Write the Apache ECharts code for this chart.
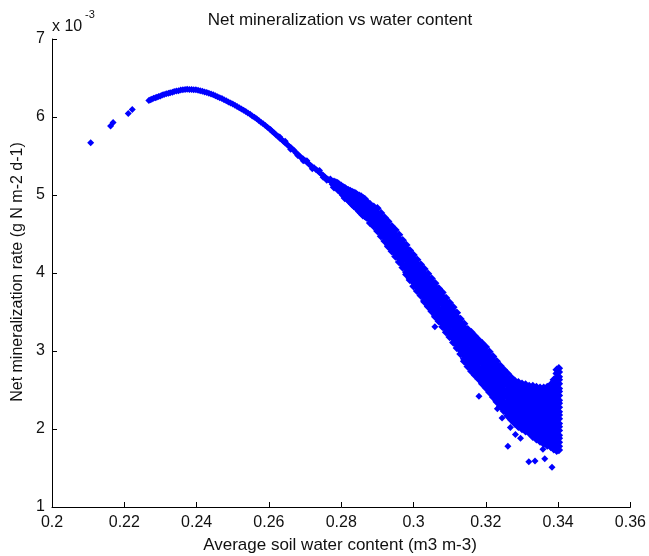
<!DOCTYPE html>
<html>
<head>
<meta charset="utf-8">
<script src="https://cdn.jsdelivr.net/npm/echarts@6/dist/echarts.min.js"></script>
<style>html,body{margin:0;padding:0;background:#fff}#c{width:649px;height:556px}</style>
</head>
<body>
<div id="c"></div>
<script>
// ---- tick values ----
const xTicks = [0.2, 0.22, 0.24, 0.26, 0.28, 0.3, 0.32, 0.34, 0.36];
const yTicks = [1, 2, 3, 4, 5, 6, 7];   // units of 1e-3 g N m-2 d-1

// ---- data (x: soil water content, y: rate x 1e-3) ----
const dryPoints = [[0.2107,5.67],[0.2162,5.885],[0.2169,5.93],[0.2211,6.045],[0.2222,6.096]];

const peakArc = [
[0.2268,6.212],[0.2272,6.222],[0.2276,6.228],[0.2281,6.240],[0.2286,6.248],[0.2290,6.252],[0.2295,6.262],
[0.2300,6.270],[0.2305,6.282],[0.2310,6.288],[0.2316,6.298],[0.2322,6.306],[0.2327,6.312],[0.2333,6.318],
[0.2338,6.326],[0.2344,6.332],[0.2350,6.338],[0.2356,6.346],[0.2362,6.350],[0.2368,6.352],[0.2374,6.356],
[0.2380,6.354],[0.2386,6.352],[0.2392,6.350],[0.2398,6.348],[0.2404,6.342],[0.2410,6.338],[0.2416,6.330],
[0.2422,6.322],[0.2428,6.314],[0.2434,6.304],[0.2440,6.294],[0.2446,6.284],[0.2452,6.272],[0.2458,6.260],
[0.2464,6.248],[0.2470,6.236],[0.2476,6.222],[0.2482,6.208],[0.2488,6.192],[0.2494,6.178],[0.2500,6.166],
[0.2506,6.152],[0.2512,6.136],[0.2518,6.120],[0.2524,6.104],[0.2530,6.088],[0.2536,6.070],[0.2542,6.052],
[0.2548,6.034],[0.2554,6.014],[0.2560,5.996],[0.2566,5.976],[0.2572,5.956],[0.2578,5.934],[0.2584,5.914],
[0.2590,5.892],[0.2596,5.870],[0.2602,5.846]
];

const descendingLimb = [
[0.2605,5.835],[0.2610,5.812],[0.2615,5.795],[0.2620,5.768],[0.2625,5.752],[0.2630,5.726],[0.2630,5.745],
[0.2635,5.712],[0.2640,5.688],[0.2645,5.668],[0.2645,5.690],[0.2650,5.652],[0.2655,5.626],[0.2660,5.612],
[0.2660,5.585],[0.2665,5.588],[0.2670,5.572],[0.2675,5.540],[0.2680,5.524],[0.2680,5.505],[0.2685,5.498],
[0.2690,5.478],[0.2695,5.462],[0.2695,5.440],[0.2700,5.438],[0.2705,5.424],[0.2705,5.440],[0.2710,5.398],
[0.2715,5.382],[0.2720,5.360],[0.2720,5.335],[0.2725,5.348],[0.2730,5.326],[0.2735,5.312],[0.2740,5.290],
[0.2740,5.315],[0.2745,5.268],[0.2750,5.252],[0.2750,5.228],[0.2755,5.232],[0.2760,5.212],[0.2760,5.190],
[0.2765,5.196],[0.2770,5.178],[0.2770,5.205],[0.2775,5.160],[0.2775,5.138]
];

const wetBand = [
[0.2780,[5.17,5.13,5.10]],
[0.2785,[5.16,5.11]],
[0.2790,[5.15,5.10,5.07]],
[0.2795,[5.13,5.08]],
[0.2800,[5.12,5.07,5.03]],
[0.2805,[5.10,5.05,5.00]],
[0.2810,[5.09,5.04,4.99,4.96]],
[0.2815,[5.07,5.02,4.97]],
[0.2820,[5.06,5.01,4.97,4.93]],
[0.2825,[5.05,4.99,4.94,4.91]],
[0.2830,[5.04,4.99,4.93,4.88]],
[0.2835,[5.03,4.96,4.91,4.86]],
[0.2840,[5.02,4.96,4.92,4.86,4.84]],
[0.2845,[5.00,4.95,4.89,4.83]],
[0.2850,[4.99,4.93,4.89,4.84,4.79]],
[0.2855,[4.98,4.92,4.87,4.81,4.77]],
[0.2860,[4.96,4.91,4.85,4.80,4.76,4.74]],
[0.2865,[4.95,4.89,4.83,4.79,4.73]],
[0.2870,[4.92,4.87,4.82,4.76,4.71]],
[0.2880,[4.88,4.83,4.79,4.73,4.68,4.64]],
[0.2890,[4.85,4.81,4.75,4.70,4.66,4.60]],
[0.2900,[4.83,4.77,4.72,4.66,4.62,4.57,4.54]],
[0.2910,[4.77,4.72,4.68,4.62,4.57,4.51,4.47]],
[0.2920,[4.71,4.66,4.60,4.56,4.50,4.46,4.41]],
[0.2930,[4.66,4.61,4.55,4.51,4.46,4.40,4.36,4.34]],
[0.2940,[4.60,4.55,4.51,4.45,4.39,4.35,4.30,4.28]],
[0.2950,[4.55,4.49,4.45,4.40,4.34,4.30,4.25,4.21]],
[0.2960,[4.49,4.44,4.38,4.34,4.29,4.23,4.19,4.14]],
[0.2970,[4.42,4.38,4.32,4.26,4.22,4.17,4.11,4.07]],
[0.2980,[4.36,4.31,4.25,4.21,4.16,4.10,4.06,4.01,3.98]],
[0.2990,[4.29,4.24,4.20,4.14,4.08,4.04,3.99,3.93,3.91]],
[0.3000,[4.23,4.18,4.12,4.08,4.03,3.97,3.93,3.88,3.83]],
[0.3010,[4.17,4.12,4.06,4.02,3.96,3.92,3.87,3.81,3.77]],
[0.3020,[4.11,4.06,4.01,3.95,3.91,3.86,3.80,3.76,3.71]],
[0.3030,[4.05,3.99,3.95,3.90,3.84,3.80,3.75,3.69,3.65,3.63]],
[0.3040,[3.99,3.94,3.88,3.84,3.79,3.73,3.69,3.64,3.59,3.57]],
[0.3050,[3.93,3.88,3.82,3.78,3.72,3.68,3.62,3.58,3.53,3.51]],
[0.3060,[3.87,3.82,3.77,3.71,3.67,3.61,3.57,3.52,3.46,3.44]],
[0.3070,[3.80,3.75,3.69,3.65,3.60,3.54,3.50,3.44,3.40,3.38]],
[0.3080,[3.75,3.70,3.64,3.60,3.54,3.50,3.45,3.39,3.35,3.31]],
[0.3090,[3.68,3.63,3.57,3.53,3.47,3.43,3.38,3.32,3.28,3.24]],
[0.3100,[3.62,3.57,3.51,3.47,3.42,3.36,3.32,3.26,3.22,3.18]],
[0.3110,[3.56,3.51,3.45,3.41,3.35,3.31,3.25,3.21,3.16,3.11]],
[0.3120,[3.49,3.44,3.39,3.33,3.29,3.23,3.19,3.14,3.08,3.04]],
[0.3130,[3.41,3.36,3.30,3.26,3.21,3.15,3.11,3.05,3.01,2.96]],
[0.3140,[3.35,3.30,3.24,3.20,3.14,3.10,3.05,2.99,2.95,2.90,2.87]],
[0.3150,[3.28,3.23,3.17,3.13,3.08,3.02,2.98,2.93,2.87,2.83,2.80]],
[0.3160,[3.24,3.18,3.14,3.09,3.03,2.99,2.93,2.89,2.84,2.78,2.74]],
[0.3170,[3.19,3.14,3.08,3.04,2.98,2.94,2.89,2.83,2.79,2.74,2.69]],
[0.3180,[3.14,3.09,3.03,2.99,2.94,2.88,2.84,2.78,2.74,2.69,2.64]],
[0.3190,[3.10,3.04,3.00,2.94,2.90,2.85,2.79,2.75,2.70,2.64,2.60,2.58]],
[0.3200,[3.05,2.99,2.95,2.90,2.84,2.80,2.74,2.70,2.65,2.59,2.55,2.53]],
[0.3210,[2.99,2.94,2.88,2.84,2.79,2.73,2.69,2.64,2.58,2.54,2.49,2.47]],
[0.3220,[2.93,2.88,2.82,2.78,2.73,2.67,2.63,2.58,2.52,2.48,2.43,2.41]],
[0.3230,[2.87,2.82,2.76,2.72,2.67,2.61,2.57,2.52,2.46,2.42,2.37,2.35]],
[0.3240,[2.81,2.76,2.70,2.66,2.61,2.55,2.51,2.46,2.40,2.36,2.31,2.29]],
[0.3250,[2.76,2.71,2.65,2.61,2.56,2.50,2.46,2.41,2.35,2.31,2.26,2.23]],
[0.3260,[2.71,2.65,2.61,2.56,2.50,2.46,2.41,2.35,2.31,2.26,2.21,2.17]],
[0.3270,[2.66,2.61,2.55,2.51,2.45,2.41,2.36,2.30,2.26,2.21,2.15,2.12]],
[0.3280,[2.62,2.57,2.51,2.47,2.41,2.37,2.32,2.26,2.22,2.17,2.11,2.07]],
[0.3290,[2.60,2.55,2.49,2.45,2.40,2.34,2.30,2.25,2.19,2.15,2.10,2.04,2.03]],
[0.3300,[2.58,2.53,2.47,2.43,2.38,2.32,2.28,2.23,2.17,2.13,2.08,2.02,2.00]],
[0.3310,[2.57,2.51,2.47,2.42,2.36,2.32,2.27,2.21,2.17,2.12,2.06,2.02,1.97]],
[0.3320,[2.55,2.50,2.44,2.40,2.35,2.29,2.25,2.20,2.14,2.10,2.05,1.99,1.95]],
[0.3330,[2.55,2.49,2.45,2.40,2.34,2.30,2.25,2.19,2.15,2.10,2.04,2.00,1.95,1.90]],
[0.3340,[2.54,2.49,2.43,2.39,2.34,2.28,2.24,2.19,2.13,2.09,2.04,1.98,1.94,1.89,1.87]],
[0.3350,[2.53,2.47,2.43,2.38,2.32,2.28,2.23,2.17,2.13,2.08,2.02,1.98,1.93,1.87,1.84]],
[0.3360,[2.53,2.48,2.42,2.38,2.33,2.27,2.23,2.18,2.12,2.08,2.03,1.97,1.93,1.88,1.83,1.81]],
[0.3370,[2.54,2.48,2.44,2.39,2.33,2.29,2.24,2.18,2.14,2.09,2.03,1.99,1.94,1.88,1.84,1.79]],
[0.3380,[2.57,2.52,2.46,2.42,2.37,2.31,2.27,2.22,2.16,2.12,2.07,2.01,1.97,1.92,1.86,1.82,1.77]],
[0.3388,[2.63,2.58,2.53,2.47,2.43,2.38,2.32,2.28,2.23,2.17,2.13,2.08,2.02,1.98,1.93,1.87,1.83,1.78,1.74]],
[0.3396,[2.76,2.71,2.66,2.61,2.56,2.50,2.46,2.41,2.35,2.31,2.26,2.20,2.16,2.11,2.05,2.01,1.96,1.90,1.86,1.81,1.76,1.72]],
[0.3402,[2.78,2.73,2.67,2.63,2.58,2.52,2.48,2.43,2.37,2.33,2.28,2.22,2.18,2.13,2.07,2.03,1.98,1.92,1.88,1.83,1.78,1.73]]
];

const wetOutliers = [[0.3059,3.31],[0.3181,2.42],[0.3232,2.26],[0.3245,2.14],[0.3268,2.02],[0.3261,1.78],
[0.3282,1.93],[0.3296,1.88],[0.3319,1.58],[0.3336,1.59],[0.3358,1.74],[0.3363,1.62],[0.3383,1.51]];

// ---- build series data from the arrays ----
const curvePoints = [].concat(dryPoints, peakArc, descendingLimb, wetOutliers);
const bandPoints = [];
wetBand.forEach(function (col) { col[1].forEach(function (y) { bandPoints.push([col[0], y]); }); });

const FONT = '"Liberation Sans", Arial, sans-serif';
const chart = echarts.init(document.getElementById('c'), null, {renderer: 'canvas'});
const axisCommon = {
  axisLine: {show: true, onZero: false, lineStyle: {color: '#000', width: 1}},
  axisTick: {show: true, inside: true, length: 5, lineStyle: {color: '#000'}},
  splitLine: {show: false},
  axisLabel: {color: '#111', fontSize: 16, fontFamily: FONT}
};
chart.setOption({
  animation: false,
  backgroundColor: '#fff',
  grid: {left: 52, right: 16, top: 39, bottom: 49, containLabel: false},
  xAxis: Object.assign({}, axisCommon, {
    type: 'value', min: xTicks[0], max: xTicks[xTicks.length - 1], interval: 0.02,
    axisLabel: Object.assign({}, axisCommon.axisLabel, {margin: 8, formatter: function (v) { return String(+v.toFixed(2)); }})
  }),
  yAxis: Object.assign({}, axisCommon, {
    type: 'value', min: yTicks[0], max: yTicks[yTicks.length - 1], interval: 1,
    axisLabel: Object.assign({}, axisCommon.axisLabel, {margin: 7})
  }),
  graphic: [
    {type: 'text', x: 340, y: 20, style: {text: 'Net mineralization vs water content', font: '17px ' + FONT, fill: '#111', textAlign: 'center', textVerticalAlign: 'middle'}},
    {type: 'text', x: 340, y: 545, style: {text: 'Average soil water content (m3 m-3)', font: '17px ' + FONT, fill: '#111', textAlign: 'center', textVerticalAlign: 'middle'}},
    {type: 'text', x: 18, y: 272, rotation: Math.PI / 2, style: {text: 'Net mineralization rate (g N m-2 d-1)', font: '16px ' + FONT, fill: '#111', textAlign: 'center', textVerticalAlign: 'middle'}},
    {type: 'text', x: 52, y: 27, style: {text: 'x 10', font: '16px ' + FONT, fill: '#111', textAlign: 'left', textVerticalAlign: 'middle'}},
    {type: 'text', x: 85, y: 15, style: {text: '-3', font: '11px ' + FONT, fill: '#111', textAlign: 'left', textVerticalAlign: 'middle'}}
  ],
  series: [{
    type: 'scatter',
    symbol: 'diamond',
    symbolSize: 7,
    itemStyle: {color: '#0000ff', opacity: 1},
    data: curvePoints
  }, {
    type: 'scatter',
    symbol: 'diamond',
    symbolSize: 8.5,
    itemStyle: {color: '#0000ff', opacity: 1},
    data: bandPoints
  }]
});
</script>
</body>
</html>
